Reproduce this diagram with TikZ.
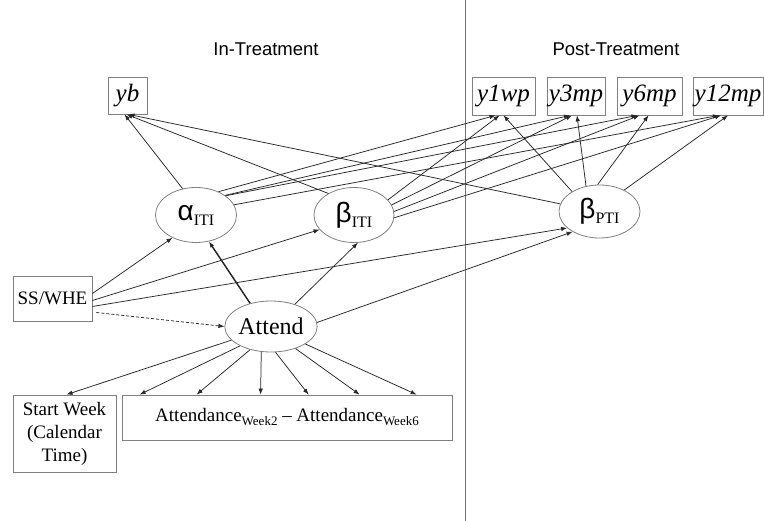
\documentclass[tikz,border=0pt]{standalone}
\usepackage{fontspec}
\setmainfont{Liberation Serif}
\newfontfamily\arialf{Liberation Sans}
\usetikzlibrary{arrows.meta,calc,shapes.geometric}
\newcommand{\fsz}[1]{\fontsize{#1}{#1}\selectfont}
\newcommand{\greeklab}[2]{{\arialf\fsz{28}#1}\raisebox{-5pt}{\fsz{16}#2}}
\newcommand{\subw}[1]{\raisebox{-4pt}{\fsz{13}#1}}
\tikzset{
  box/.style={draw=black!50, line width=0.8pt, rectangle, inner sep=0pt, align=center},
  lat/.style={draw=black!50, line width=0.8pt, ellipse, inner sep=0pt},
  arr/.style={-{Latex[length=6pt,width=4.5pt]}, line width=0.75pt, draw=black!85},
  tarr/.style={arr, line width=1.5pt},
  ylab/.style={box, minimum height=38pt, font=\fsz{25}\itshape},
  title/.style={font=\arialf\fsz{18.5}, inner sep=0pt},
  divider/.style={draw=black!55, line width=0.8pt},
}
\begin{document}
\begin{tikzpicture}[x=1pt,y=-1pt]
\useasboundingbox (0,0) rectangle (764,521);
% divider
\coordinate (dtop) at (465,0);
\coordinate (dbot) at (465,521);
\draw[divider] (dtop) -- (dbot);
% titles
\node[title] (tin) at (266,49) {In-Treatment};
\node[title] (tpost) at (616,49) {Post-Treatment};
% observed outcomes
\node[ylab, minimum width=39pt, minimum height=37pt] (yb) at (127.5,95.5) {yb};
\node[ylab, minimum width=63pt] (y1wp) at (503.5,96) {y1wp};
\node[ylab, minimum width=58pt] (y3mp) at (576,96) {y3mp};
\node[ylab, minimum width=65pt] (y6mp) at (649.5,96) {y6mp};
\node[ylab, minimum width=70pt] (y12mp) at (728,96) {y12mp};
% latent
\node[lat, minimum width=81pt, minimum height=55pt] (alpha) at (196,215) {\greeklab{α}{ITI}};
\node[lat, minimum width=80pt, minimum height=55pt] (bITI) at (354,215) {\greeklab{β}{ITI}};
\node[lat, minimum width=81pt, minimum height=53pt] (bPTI) at (599.5,211.5) {\greeklab{β}{PTI}};
\node[lat, minimum width=78pt, minimum height=51pt, font=\fsz{24}] (att) at (271,326.5) {Attend};
% other boxes
\node[box, minimum width=79pt, minimum height=45pt, font=\fsz{19}] (ss) at (52.5,298.5) {SS/WHE};
\node[box, minimum width=103pt, minimum height=77pt, font=\fontsize{19}{23}\selectfont] (sw) at (64.5,433.5) {Start Week\\(Calendar\\Time)};
\node[box, minimum width=330pt, minimum height=45pt, font=\fsz{19}] (ad) at (287,417.5) {Attendance\subw{Week2} -- Attendance\subw{Week6}};
% to yb
\draw[arr] (alpha.117) -- ($(yb.south)+(-3,0)$);
\draw[arr] (bITI.140) -- ($(yb.south)+(-1,0)$);
\draw[arr] (bPTI.169) -- ($(yb.south)+(1,0)$);
% alpha to post
\draw[arr] (alpha.46) -- ($(y1wp.south)+(-8,0)$);
\draw[arr] (alpha.34) -- ($(y3mp.south)+(-6,0)$);
\draw[arr] (alpha.33) -- ($(y6mp.south)+(-12,0)$);
\draw[arr] (alpha.15) -- ($(y12mp.south)+(-9,0)$);
% beta ITI to post
\draw[arr] (bITI.24) -- ($(y1wp.south)+(-4,0)$);
\draw[arr] (bITI.15) -- ($(y3mp.south)+(-4,0)$);
\draw[arr] (bITI.5) -- ($(y6mp.south)+(-10,0)$);
\draw[arr] (bITI.-4) -- ($(y12mp.south)+(-7,0)$);
% beta PTI to post
\draw[arr] (bPTI.144) -- ($(y1wp.south)+(0,0)$);
\draw[arr] (bPTI.118) -- ($(y3mp.south)+(1,0)$);
\draw[arr] (bPTI.94) -- ($(y6mp.south)+(-1,0)$);
\draw[arr] (bPTI.41) -- ($(y12mp.south)+(0,0)$);
% SS/WHE
\draw[arr] ($(ss.east)+(0,-5)$) -- (alpha.224);
\draw[arr] ($(ss.east)+(0,2)$) -- (bITI.203);
\draw[arr] ($(ss.east)+(0,8)$) -- (bPTI.207);
\draw[arr, dash pattern=on 3pt off 2pt] ($(ss.east)+(4,14)$) -- (att.west);
% Attend up
\draw[tarr] (att.132) -- (alpha.296);
\draw[arr] (att.43) -- (bITI.278);
\draw[arr] (att.5) -- (bPTI.217);
% Attend down
\draw[arr] (att.199) -- ($(sw.north)+(2,0)$);
\draw[arr] (att.212) -- ($(ad.north west)+(18,0)$);
\draw[arr] (att.228) -- ($(ad.north west)+(75,0)$);
\draw[arr] (att.249) -- ($(ad.north west)+(139,0)$);
\draw[arr] (att.280) -- ($(ad.north west)+(187,0)$);
\draw[arr] (att.318) -- ($(ad.north west)+(238,0)$);
\draw[arr] (att.333) -- ($(ad.north west)+(295,0)$);
\end{tikzpicture}
\end{document}
